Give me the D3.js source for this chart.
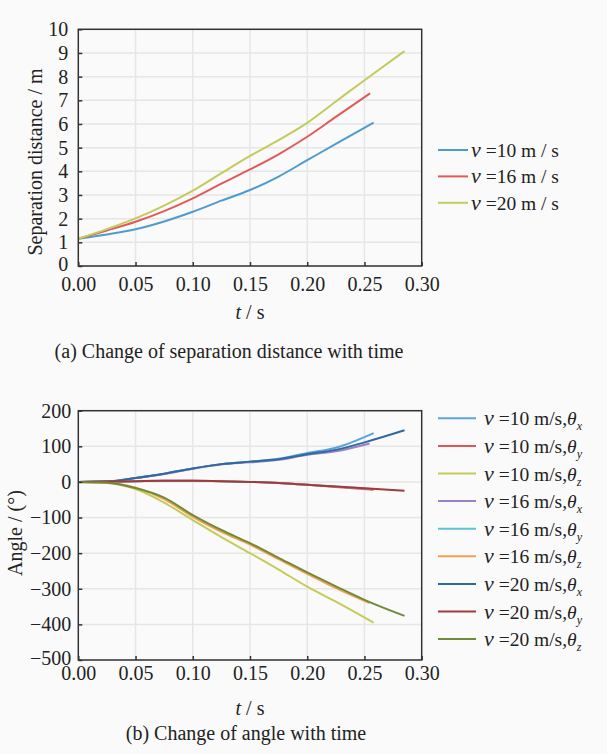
<!DOCTYPE html>
<html>
<head>
<meta charset="utf-8">
<script src="https://cdn.jsdelivr.net/npm/d3@7"></script>
<style>
  body { margin: 0; background: #fafafa; }
  svg, svg text { font-family: "Liberation Serif", "Times New Roman", Tinos, Times, "DejaVu Serif", serif; }
</style>
</head>
<body>
<div id="chart-container"></div>
<script>
// (a) separation distance
var xTicks = [0, 0.05, 0.10, 0.15, 0.20, 0.25, 0.30];
var distTicks = [0, 1, 2, 3, 4, 5, 6, 7, 8, 9, 10];
var distSpeeds = ["10", "16", "20"];
var distColors = ["#4f9bd0", "#e05a5a", "#c3cc5a"];
var distT10 = [0, 0.025, 0.05, 0.075, 0.10, 0.125, 0.15, 0.175, 0.20, 0.225, 0.258];
var distV10 = [1.15, 1.33, 1.55, 1.88, 2.29, 2.76, 3.21, 3.78, 4.47, 5.16, 6.06];
var distT16 = [0, 0.025, 0.05, 0.075, 0.10, 0.125, 0.15, 0.175, 0.20, 0.225, 0.255];
var distV16 = [1.15, 1.50, 1.87, 2.32, 2.86, 3.48, 4.08, 4.72, 5.46, 6.30, 7.30];
var distT20 = [0, 0.025, 0.05, 0.075, 0.10, 0.125, 0.15, 0.175, 0.20, 0.225, 0.25, 0.285];
var distV20 = [1.15, 1.56, 2.01, 2.55, 3.18, 3.92, 4.65, 5.32, 6.05, 6.95, 7.85, 9.08];

// (b) angles
var angTicks = [200, 100, 0, -100, -200, -300, -400, -500];
var tA10 = [0, 0.025, 0.05, 0.075, 0.10, 0.125, 0.15, 0.175, 0.20, 0.225, 0.258];
var tA16 = [0, 0.025, 0.05, 0.075, 0.10, 0.125, 0.15, 0.175, 0.20, 0.225, 0.2545];
var tA20 = [0, 0.025, 0.05, 0.075, 0.10, 0.125, 0.15, 0.175, 0.20, 0.225, 0.25, 0.285];
var v10x = [0, 1, 11, 23, 38, 50, 57, 65, 81, 96, 137];
var v10y = [0, 1, 2, 3, 3, 2, 0, -3, -8, -14, -22];
var v10z = [0, -3, -20, -58, -107, -155, -200, -246, -294, -336, -395];
var v16x = [0, 1, 11, 22, 37, 49, 55, 62, 76, 86, 108];
var v16y = [0, 1, 2, 3, 3, 2, 0, -3, -8, -13, -19];
var v16z = [0, -2, -16, -48, -98, -140, -176, -217, -258, -298, -340];
var v20x = [0, 1, 11, 23, 38, 50, 57, 64, 78, 90, 111, 145];
var v20y = [0, 1, 2, 3, 3, 2, 0, -3, -8, -13, -18, -25];
var v20z = [0, -2, -17, -44, -93, -135, -172, -213, -254, -293, -331, -376];
var angSpeeds = ["10", "10", "10", "16", "16", "16", "20", "20", "20"];
var angAxes = ["x", "y", "z", "x", "y", "z", "x", "y", "z"];
var angColors = ["#5aa5d8", "#e05555", "#c5cc55", "#9a80c6", "#5ec3d6", "#f5a050", "#2e6a9e", "#a23a3c", "#6f8a3a"];

var SERIF = '"Liberation Serif", "Times New Roman", Tinos, Times, "DejaVu Serif", serif';
var W = 607, H = 754;
var svg = d3.select('#chart-container').append('svg')
    .attr('width', W).attr('height', H)
    .attr('font-family', SERIF);
svg.append('rect').attr('width', W).attr('height', H).attr('fill', '#fafafa');

function zip(ts, vs) {
    return ts.map(function (t, i) { return {t: t, v: vs[i]}; });
}

function panel(opts) {
    var x = d3.scaleLinear().domain([0, 0.30]).range([78.3, 421.7]);
    var y = d3.scaleLinear().domain(opts.yDomain).range([opts.bottom, opts.top]);
    var g = svg.append('g');

    //grid
    g.append('g').selectAll('line.gx').data(xTicks.slice(1, -1)).enter().append('line')
        .attr('x1', x).attr('x2', x).attr('y1', opts.top).attr('y2', opts.bottom)
        .attr('stroke', '#e6e6e6').attr('stroke-width', 1.5);
    g.append('g').selectAll('line.gy').data(opts.yTicks).enter().append('line')
        .attr('x1', x(0)).attr('x2', x(0.30)).attr('y1', y).attr('y2', y)
        .attr('stroke', '#e6e6e6').attr('stroke-width', 1.5);

    //lines
    var line = d3.line()
        .x(function (d) { return x(d.t); })
        .y(function (d) { return y(d.v); })
        .curve(d3.curveMonotoneX);
    opts.series.forEach(function (s) {
        g.append('path').datum(s.data)
            .attr('fill', 'none').attr('stroke', s.color)
            .attr('stroke-width', 2).attr('d', line);
    });

    //axes
    var xAxis = d3.axisBottom(x).tickValues(xTicks).tickFormat(d3.format('.2f'))
        .tickSizeInner(-4).tickSizeOuter(0).tickPadding(opts.xPad);
    var yAxis = d3.axisLeft(y).tickValues(opts.yTicks).tickFormat(d3.format('d'))
        .tickSizeInner(-4).tickSizeOuter(0).tickPadding(opts.yPad);
    var ax = g.append('g').attr('transform', 'translate(0,' + opts.bottom + ')').call(xAxis);
    var ay = g.append('g').attr('transform', 'translate(' + x(0) + ',0)').call(yAxis);
    [ax, ay].forEach(function (a) {
        a.attr('font-family', SERIF).attr('font-size', 20);
        a.select('.domain').remove();
        a.selectAll('line').attr('stroke', '#333').attr('stroke-width', 1.5);
        a.selectAll('text').attr('fill', '#222');
    });
    // lowest y label sits a bit higher, as in the source figure
    ay.selectAll('text').filter(function (d) { return d === opts.yDomain[0]; })
        .attr('dy', opts.lowDy);
    g.append('rect')
        .attr('x', x(0)).attr('y', opts.top)
        .attr('width', x(0.30) - x(0)).attr('height', opts.bottom - opts.top)
        .attr('fill', 'none').attr('stroke', '#333').attr('stroke-width', 1.5);

    //labels
    var xl = g.append('text').attr('x', 250).attr('y', opts.xLabelY)
        .attr('text-anchor', 'middle').attr('font-size', 20).attr('fill', '#222');
    xl.append('tspan').attr('font-style', 'italic').text('t');
    xl.append('tspan').text(' / s');
    g.append('text')
        .attr('transform', 'translate(' + opts.yLabelX + ',' + opts.yLabelY + ') rotate(-90)')
        .attr('text-anchor', 'middle').attr('font-size', 20).attr('fill', '#222')
        .text(opts.yLabel);
    g.append('text').attr('x', opts.capX).attr('y', opts.capY)
        .attr('text-anchor', 'middle').attr('font-size', 20).attr('fill', '#222')
        .text(opts.caption);

    //legend
    var lg = g.append('g');
    opts.legend.forEach(function (l, i) {
        var ly = opts.legY + i * opts.legStep;
        lg.append('line').attr('x1', 438).attr('x2', opts.legLineEnd)
            .attr('y1', ly).attr('y2', ly)
            .attr('stroke', l.color).attr('stroke-width', 2);
        var t = lg.append('text').attr('x', opts.legTextX).attr('y', ly + 7)
            .attr('font-size', 19.5).attr('fill', '#222');
        l.label(t);
    });
}

panel({
    top: 29.3, bottom: 266, yDomain: [0, 10], yTicks: distTicks,
    xPad: 11, yPad: 10, lowDy: '0.2em',
    series: [
        {data: zip(distT10, distV10), color: distColors[0]},
        {data: zip(distT16, distV16), color: distColors[1]},
        {data: zip(distT20, distV20), color: distColors[2]}
    ],
    xLabelY: 319, yLabel: 'Separation distance / m', yLabelX: 41.5, yLabelY: 162,
    caption: '(a) Change of separation distance with time', capX: 229, capY: 358,
    legY: 150, legStep: 26.4, legLineEnd: 468, legTextX: 471,
    legend: distSpeeds.map(function (s, i) {
        return {color: distColors[i], label: function (t) {
            t.append('tspan').attr('font-style', 'italic').attr('font-size', 22).text('v');
            t.append('tspan').text(' =' + s + ' m / s');
        }};
    })
});

var angData = [zip(tA10, v10x), zip(tA10, v10y), zip(tA10, v10z),
               zip(tA16, v16x), zip(tA16, v16y), zip(tA16, v16z),
               zip(tA20, v20x), zip(tA20, v20y), zip(tA20, v20z)];

panel({
    top: 410.7, bottom: 660, yDomain: [-500, 200], yTicks: angTicks,
    xPad: 6, yPad: 7, lowDy: '0.2em',
    series: angData.map(function (d, i) { return {data: d, color: angColors[i]}; }),
    xLabelY: 715, yLabel: 'Angle / (°)', yLabelX: 22, yLabelY: 533,
    caption: '(b) Change of angle with time', capX: 246, capY: 740,
    legY: 418.3, legStep: 27.6, legLineEnd: 476, legTextX: 484,
    legend: angSpeeds.map(function (s, i) {
        return {color: angColors[i], label: function (t) {
            t.append('tspan').attr('font-style', 'italic').attr('font-size', 22).text('v');
            t.append('tspan').text(' =' + s + ' m/s,');
            t.append('tspan').attr('font-style', 'italic').text('θ');
            t.append('tspan').attr('font-style', 'italic').attr('font-size', 12)
                .attr('dy', 5).text(angAxes[i]);
        }};
    })
});
</script>
</body>
</html>
